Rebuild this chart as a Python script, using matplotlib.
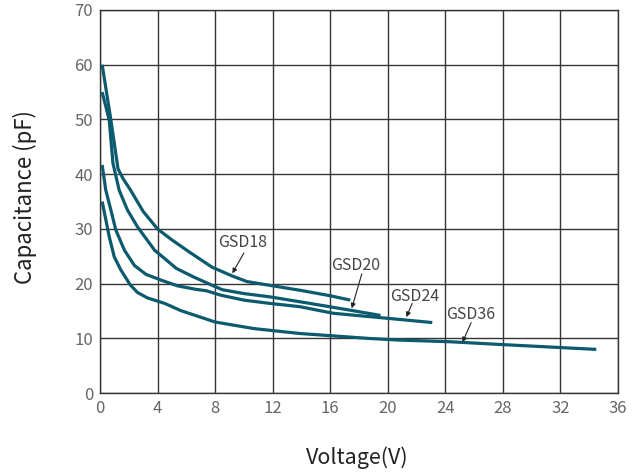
import matplotlib.pyplot as plt

plt.rcParams['font.family'] = ['Noto Sans CJK JP', 'DejaVu Sans']

# capacitance curves
v_gsd18 = [0.15, 0.75, 1.25, 1.6, 2.1, 3.0, 4.0, 5.0, 6.2, 7.8, 9.2, 10.2, 11.8, 13.9, 16.0, 17.4]
c_gsd18 = [60.0, 50.0, 41.0, 39.2, 37.2, 33.2, 30.0, 28.0, 25.8, 23.0, 21.4, 20.4, 19.7, 18.8, 17.8, 17.0]

v_gsd20 = [0.15, 0.64, 0.9, 1.33, 1.9, 2.6, 3.8, 4.4, 5.3, 6.45, 7.8, 8.5, 10.0, 11.8, 13.9, 15.5, 17.3, 19.5]
c_gsd20 = [55.0, 49.9, 42.0, 37.1, 33.5, 30.4, 26.1, 24.8, 22.8, 21.3, 19.7, 18.9, 18.2, 17.6, 16.7, 16.0, 15.2, 14.2]

v_gsd24 = [0.15, 0.4, 0.75, 1.1, 1.7, 2.4, 3.2, 4.3, 5.4, 6.6, 7.4, 8.4, 10.0, 11.8, 13.9, 16.2, 19.9, 23.1]
c_gsd24 = [41.7, 37.1, 33.5, 29.8, 26.1, 23.3, 21.7, 20.6, 19.6, 19.0, 18.7, 17.9, 17.0, 16.4, 15.8, 14.6, 13.7, 12.9]

v_gsd36 = [0.15, 0.64, 0.99, 1.45, 2.1, 2.6, 3.3, 4.5, 5.6, 8.0, 10.7, 13.9, 18.7, 20.8, 24.3, 27.8, 34.5]
c_gsd36 = [35.0, 28.6, 24.9, 22.5, 19.8, 18.4, 17.4, 16.4, 15.1, 13.0, 11.8, 10.9, 10.0, 9.7, 9.4, 8.9, 8.0]

labels = ['GSD18', 'GSD20', 'GSD24', 'GSD36']
label_xy = [(9.9, 27.6), (17.8, 23.4), (21.9, 17.7), (25.8, 14.3)]
arrow_tail = [(10.0, 25.6), (18.2, 21.8), (21.7, 16.4), (25.8, 12.9)]
arrow_tip = [(9.2, 21.9), (17.5, 15.5), (21.3, 13.9), (25.2, 9.3)]

x_ticks = [0, 4, 8, 12, 16, 20, 24, 28, 32, 36]
y_ticks = [0, 10, 20, 30, 40, 50, 60, 70]

line_color = '#0b5a6d'

fig = plt.figure(figsize=(6.35, 4.76), dpi=100)
ax = fig.add_axes([0.1575, 0.174, 0.8155, 0.805])

for v, c in [(v_gsd18, c_gsd18), (v_gsd20, c_gsd20), (v_gsd24, c_gsd24), (v_gsd36, c_gsd36)]:
    ax.plot(v, c, color=line_color, lw=2.3, solid_capstyle='butt', solid_joinstyle='round', zorder=3)

for name, (tx, ty), (ax0, ay0), (ax1, ay1) in zip(labels, label_xy, arrow_tail, arrow_tip):
    ax.text(tx, ty, name, ha='center', va='center', fontsize=11.5, color='#444444', zorder=4)
    ax.annotate('', xy=(ax1, ay1), xytext=(ax0, ay0),
                arrowprops=dict(arrowstyle='-|>', color='#222222', lw=0.8,
                                mutation_scale=7, shrinkA=0, shrinkB=0), zorder=4)

ax.set_xlim(0, 36)
ax.set_ylim(0, 70)
ax.set_xticks(x_ticks)
ax.set_yticks(y_ticks)
ax.tick_params(length=0, labelsize=12, labelcolor='#666666', pad=5)
ax.grid(True, color='#3a3333', lw=1.0)
for s in ax.spines.values():
    s.set_color('#3a3333')
    s.set_linewidth(1.0)

fig.text(0.5625, 0.038, 'Voltage(V)', ha='center', va='center', fontsize=15.5, color='#222222')
fig.text(0.04, 0.585, 'Capacitance (pF)', ha='center', va='center', rotation=90,
         fontsize=16, color='#222222')

plt.savefig('out.png', dpi=100)
